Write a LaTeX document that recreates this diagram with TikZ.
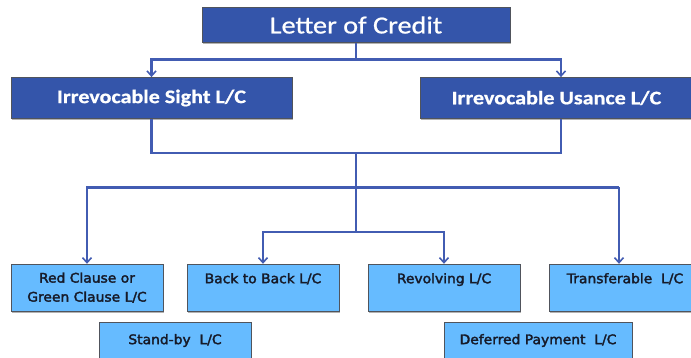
\documentclass[tikz,border=0pt]{standalone}
\usepackage{fontspec}
\setmainfont{Carlito}
\newfontfamily\headfont[FakeStretch=1.15,FakeBold=0.8]{Carlito}
\newfontfamily\subfont[FakeStretch=1.05,FakeBold=2.4]{DejaVu Sans}
\usetikzlibrary{arrows.meta,shadows}

\definecolor{navyfill}{RGB}{52,85,170}
\definecolor{skyfill}{RGB}{102,187,255}
\definecolor{linkblue}{RGB}{66,92,178}
\definecolor{boxedge}{RGB}{80,84,92}
\definecolor{inktext}{RGB}{22,26,40}

\tikzset{
  basebox/.style={rectangle, draw=boxedge, line width=0.8pt, inner sep=0pt,
    drop shadow={shadow xshift=1.4pt, shadow yshift=-1.4pt, fill=black, opacity=0.3}},
  headbox/.style={basebox, fill=navyfill, text=white, minimum height=41pt},
  typebox/.style={basebox, fill=skyfill, text=inktext, align=center,
    font=\subfont\fontsize{13.2}{19}\selectfont},
  link/.style={draw=linkblue, line width=2.1pt},
  tip/.style={-{Straight Barb[length=5pt,width=9pt,line width=1.6pt]}}
}

\begin{document}
\begin{tikzpicture}[x=1pt,y=-1pt]
\useasboundingbox (0,0) rectangle (691,358);
\clip (0,0) rectangle (691,358);

% top level
\node[headbox, minimum width=308pt, minimum height=35pt,
      font=\headfont\fontsize{24.5}{26}\selectfont] (credit) at (356,25) {Letter of Credit};

% second level
\node[headbox, minimum width=281pt, font=\headfont\bfseries\fontsize{19.2}{24}\selectfont]
  (sight) at (151.5,98) {Irrevocable Sight L/C};
\node[headbox, minimum width=282pt, font=\headfont\bfseries\fontsize{19.2}{24}\selectfont]
  (usance) at (561,98) {\hspace*{-9pt}Irrevocable Usance L/C};

% kinds of credit
\node[typebox, minimum width=152pt, minimum height=47pt] (red) at (87,287.7)
  {Red Clause or\\Green Clause L/C};
\node[typebox, minimum width=152pt, minimum height=47pt] (back) at (263,287.7)
  {Back to Back L/C\\\mbox{}};
\node[typebox, minimum width=152pt, minimum height=47pt] (revolving) at (444,287.7)
  {Revolving L/C\\\mbox{}};
\node[typebox, minimum width=152pt, minimum height=47pt] (transfer) at (625,287.7)
  {Transferable\ \ L/C\\\mbox{}};
\node[typebox, minimum width=152pt, minimum height=36pt] (standby) at (175,340.5)
  {Stand-by\ \ L/C};
\node[typebox, minimum width=188pt, minimum height=36pt] (deferred) at (538,340.5)
  {Deferred Payment\ \ L/C};

% connectors
\coordinate (j1) at (356,59.5);
\coordinate (j2) at (356,153);
\coordinate (j3) at (356,187.5);
\coordinate (j4) at (356,232);
\coordinate (j5) at (619,187.5);

\draw[link] (credit.south) -- (j1);
\draw[link,tip] (j1) -| (sight.north);
\draw[link,tip] (j1) -| (usance.north);

\draw[link] (sight.south) |- (j2) -| (usance.south);
\draw[link] (j2) -- (j4);

\draw[link,tip] (j3) -| (red.north);
\draw[link] (j3) -- (j5);
\draw[link,tip] (j5) -- (j5 |- transfer.north);
\draw[link,tip] (j4) -| (back.north);
\draw[link,tip] (j4) -| (revolving.north);
\end{tikzpicture}
\end{document}
